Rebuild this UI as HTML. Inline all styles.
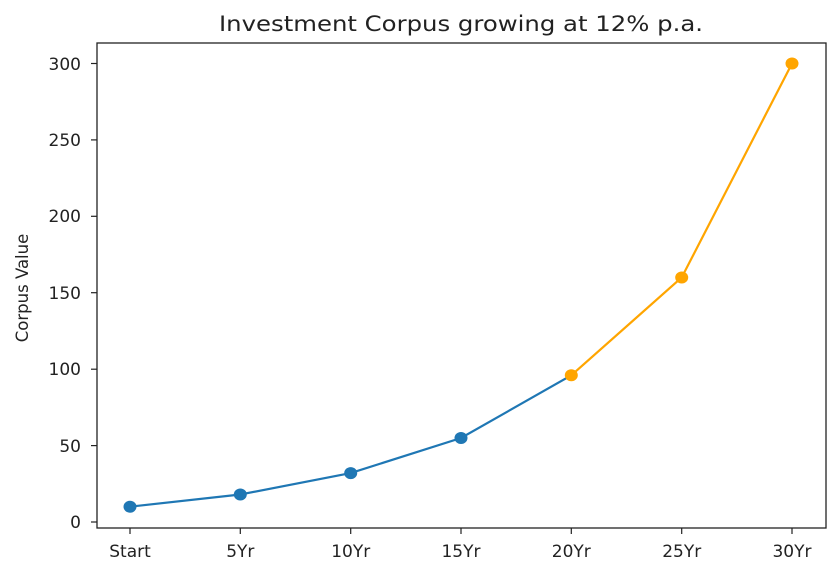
<!DOCTYPE html>
<html><head><meta charset="utf-8"><style>body{margin:0;background:#fff}svg{display:block}text{font-family:"DejaVu Sans","Liberation Sans",sans-serif;fill:#222}</style></head><body>
<svg width="839" height="573" xmlns="http://www.w3.org/2000/svg">
<text x="461" y="31" font-size="21" text-anchor="middle" textLength="484" lengthAdjust="spacingAndGlyphs">Investment Corpus growing at 12% p.a.</text>
<rect x="97" y="43" width="729" height="485" fill="none" stroke="#222" stroke-width="1.3"/>
<g stroke="#222" stroke-width="1.2">
<line x1="91" x2="97" y1="522" y2="522"/><line x1="91" x2="97" y1="445.6" y2="445.6"/><line x1="91" x2="97" y1="369.2" y2="369.2"/><line x1="91" x2="97" y1="292.7" y2="292.7"/><line x1="91" x2="97" y1="216.3" y2="216.3"/><line x1="91" x2="97" y1="139.9" y2="139.9"/><line x1="91" x2="97" y1="63.5" y2="63.5"/>
<line x1="130" x2="130" y1="528" y2="534"/><line x1="240.3" x2="240.3" y1="528" y2="534"/><line x1="350.7" x2="350.7" y1="528" y2="534"/><line x1="461" x2="461" y1="528" y2="534"/><line x1="571.3" x2="571.3" y1="528" y2="534"/><line x1="681.7" x2="681.7" y1="528" y2="534"/><line x1="792" x2="792" y1="528" y2="534"/>
</g>
<g font-size="17" text-anchor="end">
<text x="81" y="528">0</text><text x="81" y="452">50</text><text x="81" y="375">100</text><text x="81" y="299">150</text><text x="81" y="222">200</text><text x="81" y="146">250</text><text x="81" y="70">300</text>
</g>
<g font-size="17" text-anchor="middle">
<text x="130" y="557">Start</text><text x="240.3" y="557">5Yr</text><text x="350.7" y="557">10Yr</text><text x="461" y="557">15Yr</text><text x="571.3" y="557">20Yr</text><text x="681.7" y="557">25Yr</text><text x="792" y="557">30Yr</text>
</g>
<text transform="translate(28,288) rotate(-90)" font-size="16.5" text-anchor="middle">Corpus Value</text>
<polyline points="130,506.7 240.3,494.5 350.7,473.1 461,438 571.3,375.3" fill="none" stroke="#1f77b4" stroke-width="2.2"/>
<polyline points="571.3,375.3 681.7,277.5 792,63.5" fill="none" stroke="#ffa500" stroke-width="2.2"/>
<g fill="#1f77b4"><ellipse cx="130" cy="506.7" rx="6.5" ry="6"/><ellipse cx="240.3" cy="494.5" rx="6.5" ry="6"/><ellipse cx="350.7" cy="473.1" rx="6.5" ry="6"/><ellipse cx="461" cy="438" rx="6.5" ry="6"/></g>
<g fill="#ffa500"><ellipse cx="571.3" cy="375.3" rx="6.5" ry="6"/><ellipse cx="681.7" cy="277.5" rx="6.5" ry="6"/><ellipse cx="792" cy="63.5" rx="6.5" ry="6"/></g>
</svg>
</body></html>
